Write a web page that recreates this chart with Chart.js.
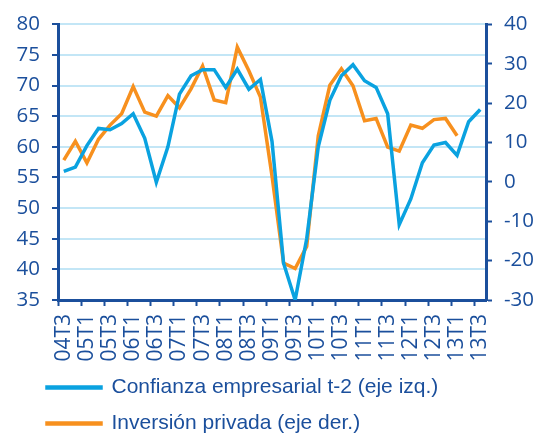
<!DOCTYPE html>
<html>
<head>
<meta charset="utf-8">
<script src="https://cdn.jsdelivr.net/npm/chart.js@4.4.6/dist/chart.umd.min.js"></script>
<style>
  html, body { margin: 0; padding: 0; background: #fff; }
  #wrap { width: 536px; height: 436px; }
</style>
</head>
<body>
<div id="wrap"><canvas id="chart"></canvas></div>
<script>
/* quarters 04T3 .. 13T3 */
const quarters = [
  "04T3", "04T4",
  "05T1", "05T2", "05T3", "05T4",
  "06T1", "06T2", "06T3", "06T4",
  "07T1", "07T2", "07T3", "07T4",
  "08T1", "08T2", "08T3", "08T4",
  "09T1", "09T2", "09T3", "09T4",
  "10T1", "10T2", "10T3", "10T4",
  "11T1", "11T2", "11T3", "11T4",
  "12T1", "12T2", "12T3", "12T4",
  "13T1", "13T2", "13T3"
];

/* Confianza empresarial t-2 (left axis) */
const confianza = [
  56.0, 56.7, 60.2, 63.0, 62.8, 63.8, 65.4, 61.4, 54.2, 60.0,
  68.6, 71.6, 72.6, 72.6, 69.7, 72.7, 69.4, 71.0, 60.9, 41.0,
  35.0, 45.0, 60.0, 67.6, 71.6, 73.4, 70.8, 69.7, 65.4, 47.3,
  51.5, 57.4, 60.3, 60.7, 58.6, 64.1, 66.1
];

/* Inversión privada (right axis), ends at 13T1 */
const inversion = [
  5.5, 10.3, 4.8, 10.8, 14.4, 17.3, 24.2, 17.7, 16.7, 21.9,
  18.8, 23.6, 29.4, 20.8, 20.1, 34.2, 28.2, 21.5, 1.5, -20.6,
  -22.0, -16.4, 11.7, 24.5, 28.7, 24.4, 15.5, 16.1, 8.8, 7.8,
  14.4, 13.6, 15.8, 16.1, 11.7
];

const seriesNames = ["Confianza empresarial t-2 (eje izq.)", "Inversión privada (eje der.)"];

/* colours */
const navy = "#1b4f9c";
const blue = "#0aa2e0";
const orange = "#f7901e";
const gridBlue = "#c3e6f6";

/* legend sits indented under the plot, not at the canvas edge */
const legendIndent = {
  id: "legendIndent",
  afterLayout(chart) {
    chart.legend.left = 32;
  },
};

const ctx = document.getElementById("chart");

new Chart(ctx, {
  type: "line",
  data: {
    labels: quarters,
    datasets: [
      {
        label: seriesNames[0],
        data: confianza,
        yAxisID: "yL",
        borderColor: blue,
        backgroundColor: blue,
        borderWidth: 3.5,
        pointRadius: 0,
        tension: 0,
      },
      {
        label: seriesNames[1],
        data: inversion,
        yAxisID: "yR",
        borderColor: orange,
        backgroundColor: orange,
        borderWidth: 3.5,
        pointRadius: 0,
        tension: 0,
      },
    ],
  },
  plugins: [legendIndent],
  options: {
    responsive: true,
    maintainAspectRatio: false,
    animation: false,
    events: [],
    layout: { padding: { left: 0, right: 0, top: 20, bottom: -8 } },
    font: { family: "'Open Sans', 'Noto Sans', sans-serif", size: 20 },
    color: navy,
    plugins: {
      tooltip: { enabled: false },
      legend: {
        position: "bottom",
        align: "start",
        labels: {
          boxWidth: 54,
          boxHeight: 1,
          padding: 15,
          color: navy,
          font: { size: 21 },
        },
      },
    },
    scales: {
      x: {
        type: "category",
        offset: true,
        grid: {
          offset: true,
          drawOnChartArea: false,
          drawTicks: true,
          tickLength: 6,
          tickWidth: 2,
          tickColor: (c) => (c.index % 2 === 0 ? navy : "rgba(0,0,0,0)"),
        },
        border: { display: true, color: navy, width: 3 },
        ticks: {
          autoSkip: false,
          maxRotation: 90,
          minRotation: 90,
          padding: 8,
          color: navy,
          font: { size: 21 },
          callback: function (value, index) {
            return index % 2 === 0 ? this.getLabelForValue(value) : "";
          },
        },
        afterFit: (s) => { s.height = 62; },
      },
      yL: {
        position: "left",
        min: 35,
        max: 80,
        ticks: { stepSize: 5, padding: 12, color: navy, font: { size: 20.5 } },
        grid: {
          color: gridBlue,
          lineWidth: 2,
          tickLength: 6,
          tickWidth: 2,
          tickColor: navy,
        },
        border: { display: true, color: navy, width: 3 },
        afterFit: (s) => { s.width = 58; },
      },
      yR: {
        position: "right",
        min: -30,
        max: 40,
        ticks: { stepSize: 10, padding: 12, color: navy, font: { size: 20.5 } },
        grid: {
          drawOnChartArea: false,
          tickLength: 6,
          tickWidth: 2,
          tickColor: navy,
        },
        border: { display: true, color: navy, width: 3 },
        afterFit: (s) => { s.width = 50; },
      },
    },
  },
});
</script>
</body>
</html>
